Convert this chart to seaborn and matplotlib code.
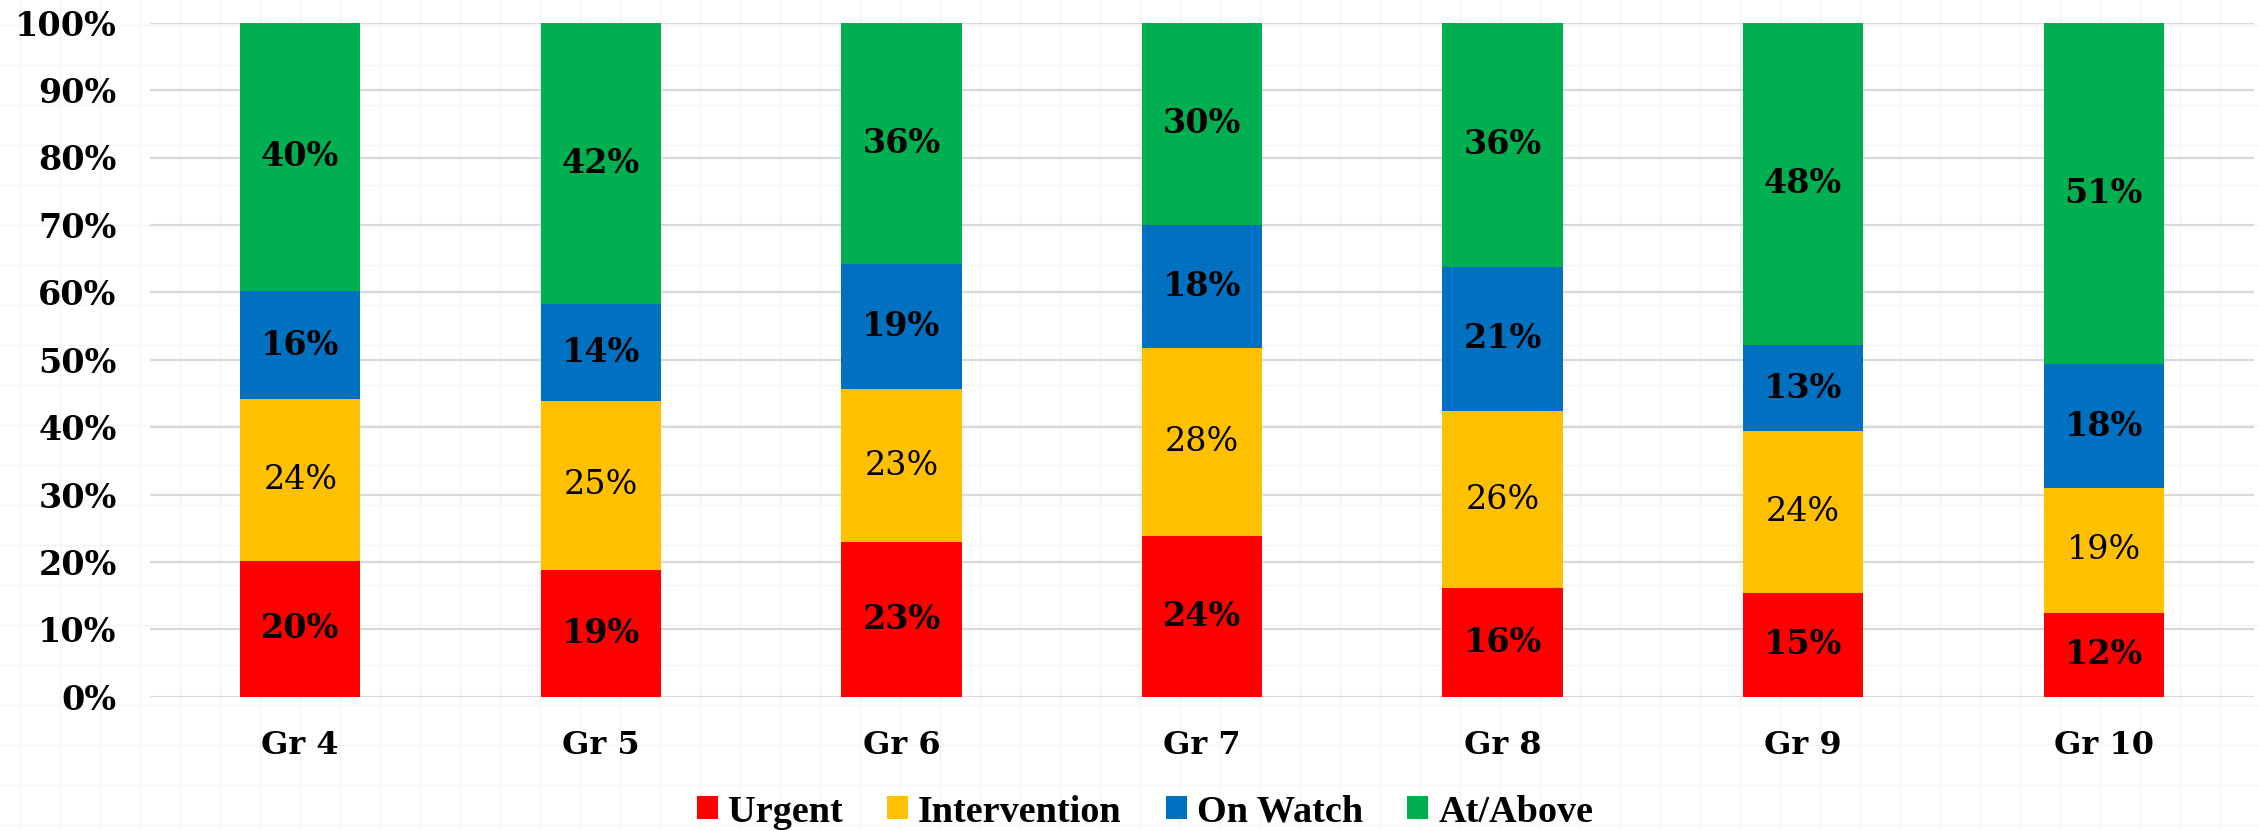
import numpy as np
import pandas as pd
import matplotlib
matplotlib.use("Agg")
import matplotlib.pyplot as plt
import seaborn as sns
from matplotlib.lines import Line2D

# valores (% por faixa)
grades = ["Gr 4", "Gr 5", "Gr 6", "Gr 7", "Gr 8", "Gr 9", "Gr 10"]
urgent = [20.1, 18.8, 22.9, 23.8, 16.1, 15.4, 12.4]
intervention = [24.0, 25.1, 22.7, 28.0, 26.3, 24.0, 18.6]
on_watch = [16.1, 14.3, 18.6, 18.2, 21.4, 12.8, 18.3]
at_above = [39.8, 41.8, 35.8, 30.0, 36.2, 47.8, 50.7]

series = ["Urgent", "Intervention", "On Watch", "At/Above"]
colors = ["#FF0000", "#FFC000", "#0070C0", "#00B050"]
label_weight = ["bold", "normal", "bold", "bold"]

sns.set_theme(style="white")
plt.rcParams["font.family"] = ["DejaVu Serif"]
plt.rcParams["text.color"] = "black"
plt.rcParams["xtick.color"] = "black"
plt.rcParams["ytick.color"] = "black"

fig = plt.figure(figsize=(22.59, 8.31), dpi=100)

# grade de fundo tipo planilha
W, H = 2259, 831
for x in range(20, W, 40):
    fig.add_artist(Line2D([x / W, x / W], [0, 1], color="#f3f3f3", lw=1, zorder=0))
for y in range(25, H, 40):
    fig.add_artist(Line2D([0, 1], [1 - y / H, 1 - y / H], color="#f3f3f3", lw=1, zorder=0))

ax = fig.add_axes([150 / W, 1 - 696.7 / H, (2254 - 150) / W, (696.7 - 22.7) / H])
ax.set_facecolor("none")

df = pd.DataFrame({"Grade": grades, "Urgent": urgent, "Intervention": intervention,
                   "On Watch": on_watch, "At/Above": at_above})

bottom = np.zeros(len(grades))
for s, c, w in zip(series, colors, label_weight):
    vals = df[s].to_numpy()
    sns.barplot(x=df["Grade"], y=vals / 100, bottom=bottom, color=c, width=0.4,
                label=s, ax=ax, saturation=1, linewidth=0, zorder=3, legend=False)
    cont = ax.containers[-1]
    ax.bar_label(cont, labels=[f"{v:.0f}%" for v in vals], label_type="center",
                 fontsize=24, fontweight=w, color="black", zorder=4)
    bottom = bottom + vals / 100

ax.set_ylim(0, 1)
ax.set_xlim(-0.5, len(grades) - 0.5)
ticks = np.arange(0, 1.01, 0.1)
ax.set_yticks(ticks)
ax.set_yticklabels([f"{int(round(t * 100))}%" for t in ticks])
ax.grid(axis="y", color="#d9d9d9", lw=1.6, zorder=0)
ax.set_axisbelow(True)
for sp in ax.spines.values():
    sp.set_visible(False)
ax.tick_params(axis="both", length=0, labelcolor="black")
ax.tick_params(axis="y", pad=24, labelsize=24)
ax.tick_params(axis="x", pad=24, labelsize=23)
for lab in ax.get_xticklabels() + ax.get_yticklabels():
    lab.set_fontweight("bold")
ax.set_xlabel("")
ax.set_ylabel("")
if ax.get_legend() is not None:
    ax.get_legend().remove()

handles, labels = ax.get_legend_handles_labels()
leg = fig.legend(handles[:4], labels[:4], loc="center", bbox_to_anchor=(1145 / W, 1 - 812 / H),
                 ncol=4, frameon=False, handlelength=0.55, handleheight=0.55,
                 handletextpad=0.27, columnspacing=1.15, borderpad=0.2,
                 prop={"family": "Liberation Serif", "weight": "bold", "size": 27.5})

fig.savefig("out.png", dpi=100)
